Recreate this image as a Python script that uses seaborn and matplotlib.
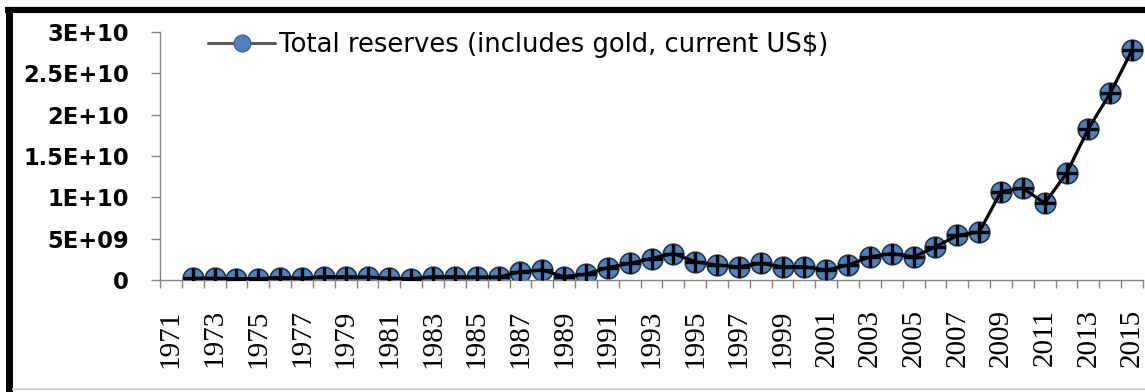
import numpy as np
import pandas as pd
import matplotlib
matplotlib.use("Agg")
import matplotlib.pyplot as plt
from matplotlib.lines import Line2D
import seaborn as sns

# Total reserves (includes gold, current US$), billions
years = list(range(1971, 2016))
reserves_bn = [
    np.nan, 0.2, 0.2, 0.15, 0.15, 0.3, 0.2, 0.4, 0.4, 0.35,
    0.2, 0.15, 0.4, 0.4, 0.35, 0.35, 1.0, 1.2, 0.4, 0.7,
    1.5, 2.0, 2.6, 3.2, 2.2, 1.8, 1.6, 2.0, 1.6, 1.6,
    1.2, 1.8, 2.8, 3.2, 2.8, 4.0, 5.4, 5.8, 10.7, 11.1,
    9.3, 12.9, 18.3, 22.6, 27.8,
]
y_ticks = [0, 5e9, 1e10, 1.5e10, 2e10, 2.5e10, 3e10]
y_tick_labels = ["0", "5E+09", "1E+10", "1.5E+10", "2E+10", "2.5E+10", "3E+10"]
series_name = "Total reserves (includes gold, current US$)"

df = pd.DataFrame({
    "pos": np.arange(len(years)),
    "year": years,
    "value": np.array(reserves_bn) * 1e9,
}).dropna()

sns.set_theme(style="white")
plt.rcParams["font.family"] = ["DejaVu Sans"]
plt.rcParams["text.color"] = "black"

W, H = 1145, 392
fig = plt.figure(figsize=(W / 100, H / 100), dpi=100)
ax = fig.add_axes([160 / W, 112 / H, 983 / W, 248 / H])

blue = "#4F81BD"
axis_grey = "#868686"

# blue round markers under the line, black line, black plus markers on top
sns.scatterplot(data=df, x="pos", y="value", ax=ax, s=220, color=blue,
                edgecolor="#22344c", linewidth=1.2, zorder=2, legend=False)
sns.lineplot(data=df, x="pos", y="value", ax=ax, color="black", lw=2.3,
             zorder=3, legend=False)
sns.scatterplot(data=df, x="pos", y="value", ax=ax, marker="+", s=220,
                color="black", linewidth=2.4, zorder=4, legend=False)

ax.set_xlim(-0.5, len(years) - 0.5)
ax.set_ylim(0, 3e10)
ax.set_xlabel("")
ax.set_ylabel("")

# category labels every other year, tick marks between categories
label_pos = np.arange(0, len(years), 2)
ax.set_xticks(label_pos)
ax.set_xticklabels([str(years[i]) for i in label_pos], rotation=90,
                   family="Liberation Serif", fontsize=21, color="black")
ax.set_xticks(np.arange(len(years) + 1) - 0.5, minor=True)
ax.tick_params(axis="x", which="major", length=0, pad=21)
ax.tick_params(axis="x", which="minor", length=6, width=1, color=axis_grey,
               direction="out", bottom=True)

ax.set_yticks(y_ticks)
ax.set_yticklabels(y_tick_labels, fontsize=16.3, fontweight="bold",
                   color="black")
ax.tick_params(axis="y", length=6.5, width=1, color=axis_grey,
               direction="out", left=True, pad=16)

for side in ["top", "right"]:
    ax.spines[side].set_visible(False)
for side in ["left", "bottom"]:
    ax.spines[side].set_color(axis_grey)
    ax.spines[side].set_linewidth(1)

handle = Line2D([], [], color="#5a5a5a", lw=2.2, marker="o", markersize=12,
                markerfacecolor=blue, markeredgecolor="#3d6494")
fig.legend([handle], [series_name], loc="upper left",
           bbox_to_anchor=(208 / W, 1 - 32 / H), frameon=False,
           borderpad=0, borderaxespad=0, handlelength=2.6, handletextpad=0.15,
           labelcolor="black",
           prop={"family": "DejaVu Sans", "size": 18.6})

# outer chart border
fig.add_artist(Line2D([5 / W, 1], [1 - 10 / H, 1 - 10 / H], color="black",
                      lw=4.5, solid_capstyle="butt",
                      transform=fig.transFigure))
fig.add_artist(Line2D([8.5 / W, 8.5 / W], [0, 1 - 7.5 / H], color="black",
                      lw=5, solid_capstyle="butt",
                      transform=fig.transFigure))
fig.add_artist(Line2D([12 / W, 1], [1 - 389 / H, 1 - 389 / H], color="#c8c8c8",
                      lw=1.2, solid_capstyle="butt",
                      transform=fig.transFigure))

fig.savefig("out.png", dpi=100, facecolor="white")
